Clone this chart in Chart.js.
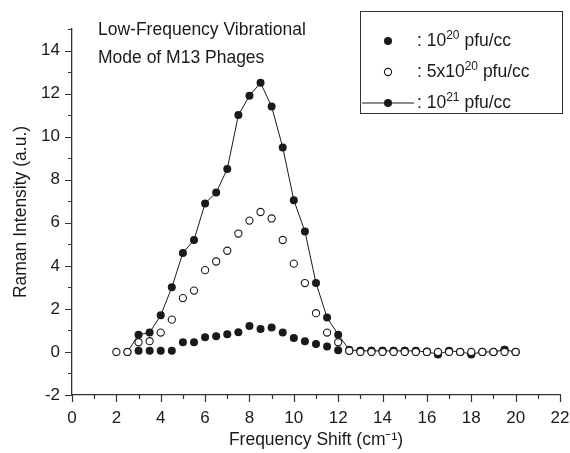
<!DOCTYPE html>
<html lang="en">
<head>
<meta charset="UTF-8">
<title>Low-Frequency Vibrational Mode of M13 Phages</title>
<script src="https://cdn.jsdelivr.net/npm/chart.js"></script>
<style>
    body { margin: 0; background: #fff; }
    #wrap { width: 570px; height: 453px; }
</style>
</head>
<body>
<div id="wrap"><canvas id="raman" width="570" height="453"></canvas></div>
<script>
// Frequency shift (cm-1) and Raman intensity (a.u.)
const freqLow = [3, 3.5, 4, 4.5, 5, 5.5, 6, 6.5, 7, 7.5, 8, 8.5, 9, 9.5, 10, 10.5, 11, 11.5, 12,
                 12.5, 13, 13.5, 14, 14.5, 15, 15.5, 16, 16.5, 17, 17.5, 18, 18.5, 19, 19.5, 20];
const intLow  = [0.05, 0.05, 0.05, 0.05, 0.45, 0.45, 0.68, 0.73, 0.82, 0.91, 1.2, 1.07, 1.14, 0.9, 0.65, 0.5, 0.37, 0.25, 0.08,
                 0.05, 0.05, 0.05, 0.05, 0.05, 0.05, 0.03, 0.02, -0.12, 0.03, 0, -0.12, 0, 0, 0.1, 0];

const freqMid = [2, 2.5, 3, 3.5, 4, 4.5, 5, 5.5, 6, 6.5, 7, 7.5, 8, 8.5, 9, 9.5, 10, 10.5, 11, 11.5, 12,
                 12.5, 13, 13.5, 14, 14.5, 15, 15.5, 16, 16.5, 17, 17.5, 18, 18.5, 19, 19.5, 20];
const intMid  = [0, 0, 0.45, 0.5, 0.9, 1.5, 2.5, 2.85, 3.8, 4.2, 4.7, 5.5, 6.1, 6.5, 6.2, 5.2, 4.1, 3.2, 1.8, 0.9, 0.45,
                 0.05, 0, 0, 0, 0, 0, 0, 0, 0, 0, 0, 0, 0, 0, 0, 0];

const freqHigh = [2.5, 3, 3.5, 4, 4.5, 5, 5.5, 6, 6.5, 7, 7.5, 8, 8.5, 9, 9.5, 10, 10.5, 11, 11.5, 12,
                  12.5, 13, 13.5, 14, 14.5, 15, 15.5, 16, 16.5, 17, 17.5, 18, 18.5, 19, 19.5, 20];
const intHigh  = [0, 0.8, 0.9, 1.7, 3.0, 4.6, 5.2, 6.9, 7.4, 8.5, 11.0, 11.9, 12.5, 11.4, 9.5, 7.05, 5.6, 3.2, 1.6, 0.8,
                  0.1, 0.05, 0.05, 0.05, 0.05, 0.05, 0.05, 0, -0.1, 0.05, 0, -0.1, 0, 0, 0.1, 0];

const legendItems = [
    { base: ': 10',   sup: '20', tail: ' pfu/cc', mark: 'filled' },
    { base: ': 5x10', sup: '20', tail: ' pfu/cc', mark: 'hollow' },
    { base: ': 10',   sup: '21', tail: ' pfu/cc', mark: 'line' }
];
const noteLines = ['Low-Frequency Vibrational', 'Mode of M13 Phages'];

const FONT = "'Liberation Sans', Arial, Helvetica, sans-serif";
const INK = '#1a1a1a';

function toPoints(xs, ys) {
    return xs.map((x, i) => ({ x: x, y: ys[i] }));
}

// outward tick marks: long on even values, short on odd
const tickMarks = {
    id: 'tickMarks',
    afterDraw(chart) {
        const { ctx, scales: { x, y } } = chart;
        ctx.save();
        ctx.strokeStyle = '#333';
        ctx.lineWidth = 1.2;
        ctx.beginPath();
        x.ticks.forEach(t => {
            const px = Math.round(x.getPixelForValue(t.value)) + 0.5;
            const len = t.value % 2 === 0 ? 7 : 4;
            ctx.moveTo(px, x.top);
            ctx.lineTo(px, x.top + len);
        });
        y.ticks.forEach(t => {
            const py = Math.round(y.getPixelForValue(t.value)) + 0.5;
            const len = t.value % 2 === 0 ? 7 : 4;
            ctx.moveTo(y.right, py);
            ctx.lineTo(y.right - len, py);
        });
        ctx.stroke();
        ctx.restore();
    }
};

// text note + boxed legend with superscripts
const annotations = {
    id: 'annotations',
    afterDraw(chart) {
        const ctx = chart.ctx;
        ctx.save();
        ctx.fillStyle = INK;
        ctx.textBaseline = 'middle';
        ctx.font = '17.5px ' + FONT;
        ctx.fillText(noteLines[0], 98, 30);
        ctx.fillText(noteLines[1], 98, 58);

        // legend box
        ctx.strokeStyle = '#333';
        ctx.lineWidth = 1;
        ctx.strokeRect(360.5, 11.5, 202, 102);

        const rows = [41, 72, 103];
        legendItems.forEach((item, i) => {
            const yy = rows[i];
            const mx = 388;
            if (item.mark === 'line') {
                ctx.beginPath();
                ctx.moveTo(362, yy);
                ctx.lineTo(414, yy);
                ctx.strokeStyle = INK;
                ctx.lineWidth = 1;
                ctx.stroke();
            }
            ctx.beginPath();
            ctx.arc(mx, yy, item.mark === 'hollow' ? 3.6 : 4, 0, Math.PI * 2);
            if (item.mark === 'hollow') {
                ctx.fillStyle = '#fff';
                ctx.fill();
                ctx.lineWidth = 1.1;
                ctx.strokeStyle = INK;
                ctx.stroke();
            } else {
                ctx.fillStyle = INK;
                ctx.fill();
            }
            ctx.fillStyle = INK;
            let tx = 417;
            ctx.font = '17.5px ' + FONT;
            ctx.fillText(item.base, tx, yy);
            tx += ctx.measureText(item.base).width;
            ctx.font = '12px ' + FONT;
            ctx.fillText(item.sup, tx, yy - 5);
            tx += ctx.measureText(item.sup).width;
            ctx.font = '17.5px ' + FONT;
            ctx.fillText(item.tail, tx, yy);
        });
        ctx.restore();
    }
};

new Chart(document.getElementById('raman'), {
    type: 'scatter',
    data: {
        datasets: [
            {
                label: '5x10^20 pfu/cc',
                data: toPoints(freqMid, intMid),
                pointRadius: 3.6,
                pointBorderWidth: 1.1,
                pointBackgroundColor: '#fff',
                pointBorderColor: INK,
                order: 0
            },
            {
                label: '10^20 pfu/cc',
                data: toPoints(freqLow, intLow),
                pointRadius: 4,
                pointBorderWidth: 0,
                pointBackgroundColor: INK,
                pointBorderColor: INK,
                order: 2
            },
            {
                label: '10^21 pfu/cc',
                data: toPoints(freqHigh, intHigh),
                showLine: true,
                borderColor: INK,
                borderWidth: 1,
                pointRadius: 4,
                pointBorderWidth: 0,
                pointBackgroundColor: INK,
                order: 1
            }
        ]
    },
    options: {
        responsive: false,
        animation: false,
        layout: { padding: { top: 29, right: 10, left: 0, bottom: 0 } },
        plugins: {
            legend: { display: false },
            tooltip: { enabled: false }
        },
        scales: {
            x: {
                type: 'linear',
                min: 0,
                max: 22,
                afterFit(scale) {
                    scale.height = 58;
                    scale.paddingLeft = 0;
                    scale.paddingRight = 0;
                },
                grid: { display: false, drawTicks: false },
                border: { display: true, color: '#333', width: 1.3 },
                ticks: {
                    stepSize: 1,
                    autoSkip: false,
                    maxRotation: 0,
                    minRotation: 0,
                    padding: 13,
                    color: INK,
                    font: { family: FONT, size: 17 },
                    callback: v => (v % 2 === 0 ? v : '')
                },
                title: {
                    display: true,
                    text: 'Frequency Shift (cm⁻¹)',
                    color: INK,
                    font: { family: FONT, size: 17.5 },
                    padding: { top: 0, bottom: 2 }
                }
            },
            y: {
                type: 'linear',
                min: -2,
                max: 15,
                afterFit(scale) {
                    scale.width = 72;
                    scale.paddingTop = 0;
                    scale.paddingBottom = 0;
                },
                grid: { display: false, drawTicks: false },
                border: { display: true, color: '#333', width: 1.3 },
                ticks: {
                    stepSize: 1,
                    autoSkip: false,
                    padding: 12,
                    color: INK,
                    font: { family: FONT, size: 17 },
                    callback: v => (v % 2 === 0 ? v : '')
                },
                title: {
                    display: true,
                    text: 'Raman Intensity (a.u.)',
                    color: INK,
                    font: { family: FONT, size: 17.5 },
                    padding: { top: 11, bottom: 0 }
                }
            }
        }
    },
    plugins: [tickMarks, annotations]
});
</script>
</body>
</html>
